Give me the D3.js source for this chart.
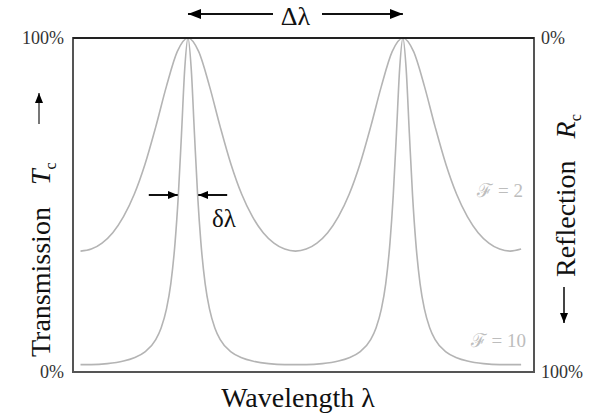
<!DOCTYPE html>
<html>
   <head>
      <script src="https://d3js.org/d3.v7.min.js"></script>
   </head>
   <style>
      body { margin: 0; background: #fff; }
      text { font-family: 'Liberation Serif', 'Times New Roman', serif; }
   </style>
   <body>
      <script>
         let [width, height] = [595, 419];
         let margin = { top: 38, right: 61, bottom: 47, left: 73 };

         // wavelength in arbitrary units: transmission peaks sit at 1 and 3
         let wl2 = [0, 0.1, 0.2, 0.3, 0.4, 0.5, 0.6, 0.7, 0.8, 0.9, 1.0, 1.1, 1.2, 1.3, 1.4, 1.5, 1.6, 1.7, 1.8, 1.9, 2.0,
                    2.1, 2.2, 2.3, 2.4, 2.5, 2.6, 2.7, 2.8, 2.9, 3.0, 3.1, 3.2, 3.3, 3.4, 3.5, 3.6, 3.7, 3.8, 3.9, 4.0, 4.1];
         let trans2 = [36.2, 36.8, 38.6, 41.7, 46.5, 53.2, 62.2, 73.4, 85.6, 95.9, 100, 95.9, 85.6, 73.4, 62.2, 53.2, 46.5, 41.7, 38.6, 36.8, 36.2,
                       36.8, 38.6, 41.7, 46.5, 53.2, 62.2, 73.4, 85.6, 95.9, 100, 95.9, 85.6, 73.4, 62.2, 53.2, 46.5, 41.7, 38.6, 36.8, 36.2, 36.8];

         let wl10 = [0, 0.1, 0.25, 0.4, 0.5, 0.6, 0.7, 0.75, 0.8, 0.84, 0.88, 0.91, 0.94, 0.97, 1.0,
                     1.03, 1.06, 1.09, 1.12, 1.16, 1.2, 1.25, 1.3, 1.4, 1.5, 1.6, 1.75, 1.9, 2.0,
                     2.1, 2.25, 2.4, 2.5, 2.6, 2.7, 2.75, 2.8, 2.84, 2.88, 2.91, 2.94, 2.97, 3.0,
                     3.03, 3.06, 3.09, 3.12, 3.16, 3.2, 3.25, 3.3, 3.4, 3.5, 3.6, 3.75, 3.9, 4.0, 4.1];
         let trans10 = [2.2, 2.2, 2.5, 3.3, 4.3, 6.0, 9.7, 13.2, 18.9, 26.4, 38.8, 52.8, 71.5, 90.9, 100,
                        90.9, 71.5, 52.8, 38.8, 26.4, 18.9, 13.2, 9.7, 6.0, 4.3, 3.3, 2.5, 2.2, 2.2,
                        2.2, 2.5, 3.3, 4.3, 6.0, 9.7, 13.2, 18.9, 26.4, 38.8, 52.8, 71.5, 90.9, 100,
                        90.9, 71.5, 52.8, 38.8, 26.4, 18.9, 13.2, 9.7, 6.0, 4.3, 3.3, 2.5, 2.2, 2.2, 2.2];

         let seriesNames = ['\u2131 = 2', '\u2131 = 10'];
         let yTicks = [0, 100];
         let peaks = [1, 3];
         let halfWidth = 0.095; // half of the F=10 peak width, same units as wl

         let svg = d3.select('body').append('svg').attr('width', width).attr('height', height);

         let x = d3.scaleLinear().domain([-0.07, 4.22]).range([margin.left, width - margin.right]);
         let y = d3.scaleLinear().domain([0, 100]).range([height - margin.bottom, margin.top]);
         let yR = d3.scaleLinear().domain([100, 0]).range([height - margin.bottom, margin.top]);

         // arrowheads
         let defs = svg.append('defs');
         defs.append('marker').attr('id', 'head').attr('viewBox', '0 0 13 10')
            .attr('refX', 13).attr('refY', 5).attr('markerWidth', 13).attr('markerHeight', 10)
            .attr('markerUnits', 'userSpaceOnUse').attr('orient', 'auto')
            .append('path').attr('d', 'M0,0 L13,5 L0,10 Z').attr('fill', '#000');
         defs.append('marker').attr('id', 'headSmall').attr('viewBox', '0 0 10 8')
            .attr('refX', 10).attr('refY', 4).attr('markerWidth', 10).attr('markerHeight', 8)
            .attr('markerUnits', 'userSpaceOnUse').attr('orient', 'auto')
            .append('path').attr('d', 'M0,0 L10,4 L0,8 Z').attr('fill', '#000');

         // curves
         let line = d3.line().x(d => x(d[0])).y(d => y(d[1])).curve(d3.curveMonotoneX);
         [[wl2, trans2], [wl10, trans10]].forEach(([w, t]) => {
            svg.append('path')
               .datum(w.map((v, i) => [v, t[i]]))
               .attr('d', line)
               .attr('fill', 'none')
               .attr('stroke', '#b4b4b4')
               .attr('stroke-width', 1.6);
         });

         // frame
         svg.append('rect')
            .attr('x', x.range()[0]).attr('y', y.range()[1])
            .attr('width', x.range()[1] - x.range()[0]).attr('height', y.range()[0] - y.range()[1])
            .attr('fill', 'none').attr('stroke', '#555').attr('stroke-width', 2);
         svg.append('line')
            .attr('x1', x.range()[0]).attr('x2', x.range()[1])
            .attr('y1', y(100)).attr('y2', y(100))
            .attr('stroke', '#222').attr('stroke-width', 2);

         // tick labels
         let left = svg.append('g').attr('transform', `translate(${margin.left},0)`)
            .call(d3.axisLeft(y).tickValues(yTicks).tickSize(0).tickPadding(9).tickFormat(d => d + '%'));
         let right = svg.append('g').attr('transform', `translate(${width - margin.right},0)`)
            .call(d3.axisRight(yR).tickValues(yTicks).tickSize(0).tickPadding(7).tickFormat(d => d + '%'));
         [left, right].forEach(g => {
            g.select('.domain').remove();
            g.selectAll('text').style('font-family', 'Liberation Serif').style('font-size', '18px').attr('fill', '#333');
         });

         // series labels
         svg.append('text').text(seriesNames[0])
            .attr('x', 523).attr('y', 197).attr('text-anchor', 'end')
            .style('font-size', '19px').attr('fill', '#bdbdbd');
         svg.append('text').text(seriesNames[1])
            .attr('x', 526).attr('y', 347).attr('text-anchor', 'end')
            .style('font-size', '19px').attr('fill', '#bdbdbd');

         // free spectral range arrow
         svg.append('line').attr('x1', 273).attr('x2', x(peaks[0])).attr('y1', 14).attr('y2', 14)
            .attr('stroke', '#111').attr('stroke-width', 2).attr('marker-end', 'url(#head)');
         svg.append('line').attr('x1', 322).attr('x2', x(peaks[1])).attr('y1', 14).attr('y2', 14)
            .attr('stroke', '#111').attr('stroke-width', 2).attr('marker-end', 'url(#head)');
         svg.append('text').text('\u0394\u03bb')
            .attr('x', (x(peaks[0]) + x(peaks[1])) / 2).attr('y', 25).attr('text-anchor', 'middle')
            .style('font-size', '26px').attr('fill', '#111');

         // linewidth arrows
         let yHalf = y(53);
         svg.append('line').attr('x1', x(peaks[0] - halfWidth) - 29).attr('x2', x(peaks[0] - halfWidth))
            .attr('y1', yHalf).attr('y2', yHalf)
            .attr('stroke', '#111').attr('stroke-width', 2).attr('marker-end', 'url(#headSmall)');
         svg.append('line').attr('x1', x(peaks[0] + halfWidth) + 29).attr('x2', x(peaks[0] + halfWidth))
            .attr('y1', yHalf).attr('y2', yHalf)
            .attr('stroke', '#111').attr('stroke-width', 2).attr('marker-end', 'url(#headSmall)');
         svg.append('text').text('\u03b4\u03bb')
            .attr('x', 212).attr('y', 227)
            .style('font-size', '25px').attr('fill', '#111');

         // axis titles
         svg.append('text').text('Wavelength \u03bb')
            .attr('x', 298).attr('y', 407).attr('text-anchor', 'middle')
            .style('font-size', '28px').attr('fill', '#111');

         let tTitle = svg.append('text')
            .attr('transform', 'translate(50,357) rotate(-90)')
            .style('font-size', '28px').attr('fill', '#111');
         tTitle.append('tspan').text('Transmission');
         tTitle.append('tspan').text('T').attr('dx', 22).style('font-style', 'italic');
         tTitle.append('tspan').text('c').attr('dy', 6).style('font-size', '16px');
         svg.append('line').attr('x1', 39).attr('x2', 39).attr('y1', 124).attr('y2', 93)
            .attr('stroke', '#777').attr('stroke-width', 2).attr('marker-end', 'url(#headSmall)');

         let rTitle = svg.append('text')
            .attr('transform', 'translate(575,277) rotate(-90)')
            .style('font-size', '28px').attr('fill', '#111');
         rTitle.append('tspan').text('Reflection');
         rTitle.append('tspan').text('R').attr('dx', 22).style('font-style', 'italic');
         rTitle.append('tspan').text('c').attr('dy', 6).style('font-size', '16px');
         svg.append('line').attr('x1', 564).attr('x2', 564).attr('y1', 287).attr('y2', 323)
            .attr('stroke', '#444').attr('stroke-width', 2).attr('marker-end', 'url(#headSmall)');
      </script>
   </body>
</html>
